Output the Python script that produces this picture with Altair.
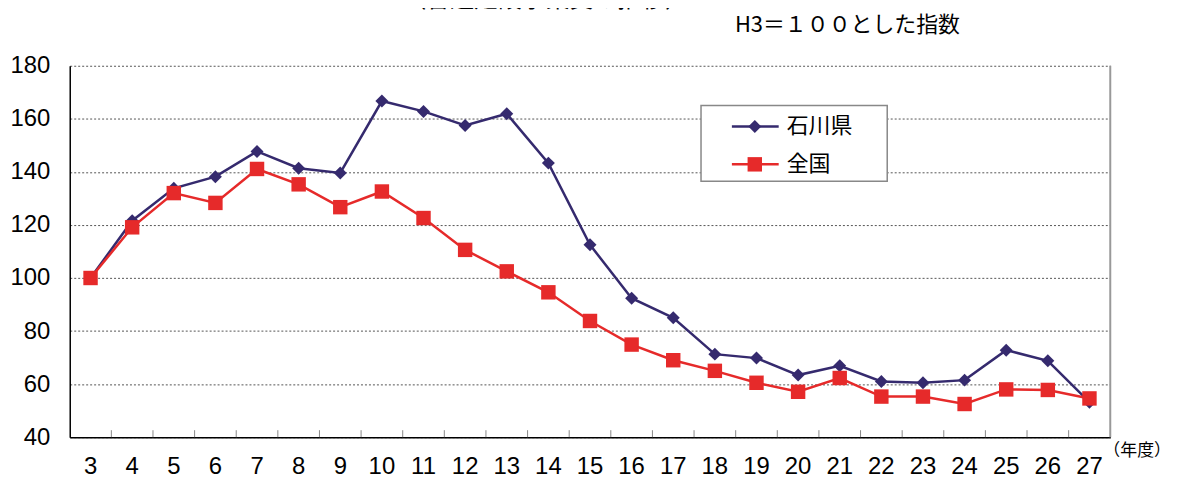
import altair as alt
import pandas as pd

# ---- data ----
years = [str(y) for y in range(3, 28)]
ishikawa = [100, 121.6, 133.8, 138.2, 147.7, 141.4, 139.6, 166.7, 162.8, 157.5, 161.9, 143.3,
            112.5, 92.4, 85.0, 71.3, 69.8, 63.4, 66.9, 61.0, 60.5, 61.5, 72.8, 68.8, 53.2]
zenkoku = [100, 119.1, 132.0, 128.3, 141.1, 135.3, 126.7, 132.6, 122.6, 110.6, 102.5, 94.6,
           83.8, 74.9, 69.0, 65.0, 60.5, 57.1, 62.3, 55.3, 55.3, 52.5, 58.0, 57.8, 54.6]
series_names = ["石川県", "全国"]
y_ticks = [40, 60, 80, 100, 120, 140, 160, 180]
title_text = "（普通建設事業費の推移）"
subtitle_text = "H3＝１００とした指数"
x_unit = "（年度）"

NAVY = "#352A6E"
RED = "#E62A2A"
NUM_FONT = "Liberation Sans"
CJK_FONT = "Noto Sans CJK JP"

W, H = 1045, 373

df = pd.DataFrame({
    "year": years * 2,
    "value": ishikawa + zenkoku,
    "series": [series_names[0]] * len(years) + [series_names[1]] * len(years),
})

x_scale = alt.Scale(type="band", paddingInner=0, paddingOuter=0)
x_enc = alt.X("year:O", sort=years, scale=x_scale,
              axis=alt.Axis(title=None, labelAngle=0, labelAlign="center", ticks=False, grid=False,
                            domainColor="black", domainWidth=1.5,
                            labelFont=NUM_FONT, labelFontSize=24, labelColor="black",
                            labelPadding=29))
y_enc = alt.Y("value:Q",
              scale=alt.Scale(domain=[40, 180], nice=False, zero=False),
              axis=alt.Axis(title=None, values=y_ticks, ticks=False, grid=True,
                            gridColor="#555555", gridDash=[2, 2], gridWidth=1,
                            domainColor="black", domainWidth=1.5,
                            labelFont=NUM_FONT, labelFontSize=24, labelColor="black",
                            labelPadding=20))

base = alt.Chart(df)

def series_layers(name, color, shape, size):
    d = base.transform_filter(alt.datum.series == name)
    line = d.mark_line(color=color, strokeWidth=2.5).encode(x=x_enc, y=y_enc)
    pts = d.mark_point(shape=shape, filled=True, color=color, size=size, opacity=1).encode(x=x_enc, y=y_enc)
    return [line, pts]

# inner ticks at category boundaries
tick_df = pd.DataFrame({"year": years[1:]})
ticks = alt.Chart(tick_df).mark_rule(color="#888888", strokeWidth=1).encode(
    x=alt.X("year:O", sort=years, bandPosition=0, scale=x_scale),
    y=alt.value(H - 7), y2=alt.value(H))

one = pd.DataFrame({"a": [0]})
right_border = alt.Chart(one).mark_rule(color="#999999", strokeWidth=2).encode(
    x=alt.value(W), y=alt.value(0), y2=alt.value(H))

# legend (manual)
leg_df = pd.DataFrame({"series": series_names})
leg_box = alt.Chart(one).mark_rect(fill="white", stroke="#888888", strokeWidth=1.5).encode(
    x=alt.value(634), x2=alt.value(821), y=alt.value(40), y2=alt.value(116))
leg_layers = []
for name, color, shape, size, yy in [(series_names[0], NAVY, "diamond", 170, 61),
                                      (series_names[1], RED, "square", 210, 99)]:
    ld = alt.Chart(leg_df).transform_filter(alt.datum.series == name)
    leg_layers.append(ld.mark_rule(color=color, strokeWidth=2.5).encode(
        x=alt.value(665), x2=alt.value(712), y=alt.value(yy)))
    leg_layers.append(ld.mark_point(shape=shape, filled=True, color=color, size=size, opacity=1).encode(
        x=alt.value(688), y=alt.value(yy)))
    leg_layers.append(ld.mark_text(align="left", baseline="middle", font=CJK_FONT, fontSize=22,
                                   color="black").encode(
        x=alt.value(720), y=alt.value(yy), text="series:N"))

texts_df = pd.DataFrame({"t": [title_text, subtitle_text, x_unit]})
title = alt.Chart(texts_df).transform_filter(alt.datum.t == title_text).mark_text(
    align="center", baseline="alphabetic", font=CJK_FONT, fontSize=24, color="black").encode(
    x=alt.value(478), y=alt.value(-59), text="t:N")
subtitle = alt.Chart(texts_df).transform_filter(alt.datum.t == subtitle_text).mark_text(
    align="left", baseline="middle", font=CJK_FONT, fontSize=22, color="black").encode(
    x=alt.value(668), y=alt.value(-41), text="t:N")
unit = alt.Chart(texts_df).transform_filter(alt.datum.t == x_unit).mark_text(
    align="right", baseline="middle", font=CJK_FONT, fontSize=17, color="black").encode(
    x=alt.value(1106), y=alt.value(387), text="t:N")

layers = [ticks, right_border] + series_layers(series_names[0], NAVY, "diamond", 170) \
    + series_layers(series_names[1], RED, "square", 210) + [leg_box] + leg_layers + [title, subtitle, unit]

chart = alt.layer(*layers).properties(
    width=W, height=H,
    autosize=alt.AutoSizeParams(type="none"),
    padding={"left": 62, "top": 57, "right": 62, "bottom": 40},
    background="white",
).configure_view(stroke=None)

chart.save("out.html", embed_options={"renderer": "svg", "actions": False})
